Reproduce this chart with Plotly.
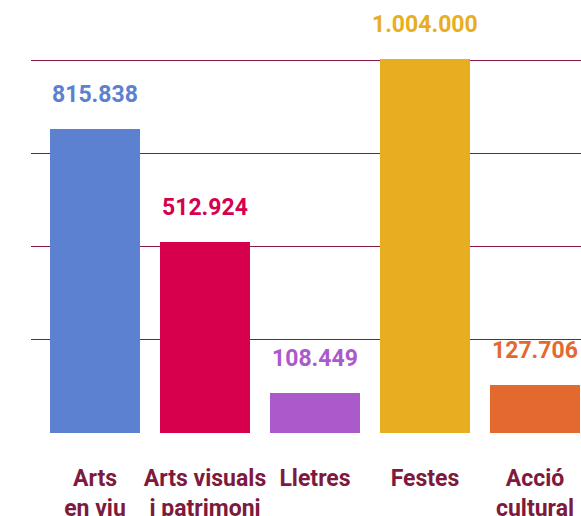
import plotly.graph_objects as go

categories = ["Arts<br>en viu", "Arts visuals<br>i patrimoni", "Lletres", "Festes", "Acció<br>cultural"]
values = [815838, 512924, 108449, 1004000, 127706]
value_labels = ["815.838", "512.924", "108.449", "1.004.000", "127.706"]
colors = ["#5b81d0", "#d7004d", "#ab5acc", "#e8ae22", "#e4692e"]
grid_vals = [0, 250000, 500000, 750000, 1000000]

x_pos = list(range(len(categories)))

fig = go.Figure()
fig.add_trace(go.Bar(
    x=x_pos, y=values,
    width=90 / 110,
    marker=dict(color=colors, line_width=0),
    hoverinfo="skip",
))

for xp, v, lab, c in zip(x_pos, values, value_labels, colors):
    fig.add_annotation(
        x=xp, y=v, text=lab, showarrow=False,
        yanchor="bottom", yshift=19,
        font=dict(family="Roboto", size=23, color=c, weight=700),
    )

fig.update_layout(
    width=581, height=516,
    paper_bgcolor="white",
    plot_bgcolor="white",
    margin=dict(l=31, r=0, t=0, b=83),
    showlegend=False,
    bargap=0,
)
fig.update_xaxes(
    range=[-64 / 110, 4 + 46 / 110],
    tickvals=x_pos, ticktext=categories,
    showgrid=False, zeroline=False, showline=False, ticks="",
    tickfont=dict(family="Roboto", size=23, color="#7d1a3e", weight=700),
    ticklabelstandoff=29,
    automargin=False,
)
fig.update_yaxes(
    range=[0, 1162000],
    tickvals=grid_vals, showticklabels=False,
    showgrid=True, gridcolor="#861843", gridwidth=1,
    zeroline=False, showline=False,
    automargin=False,
)

# drop the default 8px page margin so the figure fills the window
fig.write_html(
    "out.html",
    config={"displayModeBar": False},
    post_script="document.body.style.margin = '0';",
)
